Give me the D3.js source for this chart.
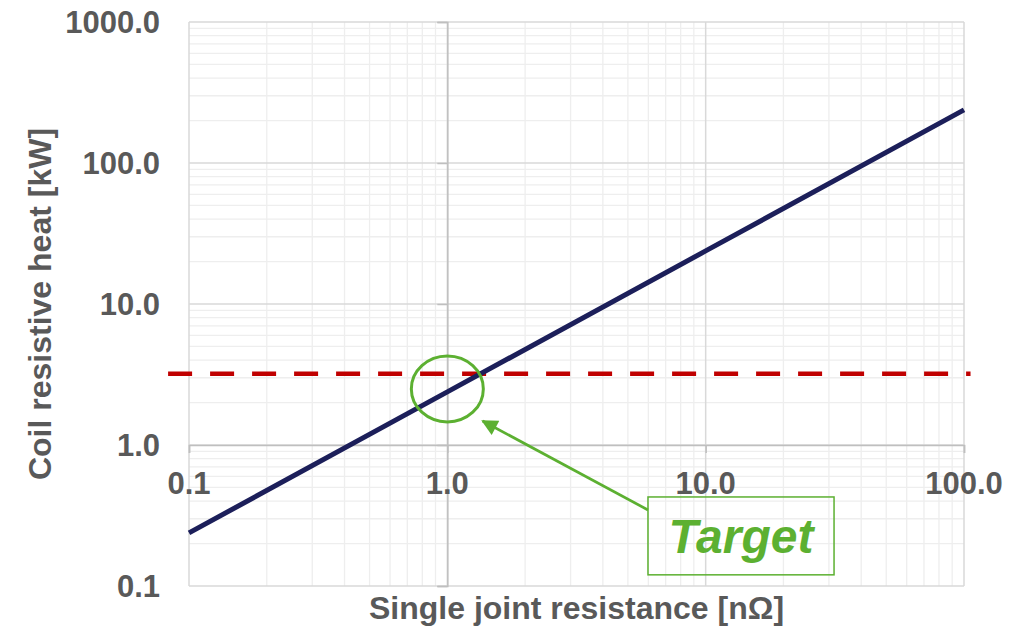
<!DOCTYPE html>
<html>
<head>
<meta charset="utf-8">
<script src="https://cdn.jsdelivr.net/npm/d3@7"></script>
<style>
  html, body { margin: 0; padding: 0; background: #ffffff; }
  svg { display: block; }
  text { font-family: "Liberation Sans", Arial, sans-serif; font-weight: bold; }
</style>
</head>
<body>
<svg id="chart" width="1015" height="628"></svg>
<script>
// ---- data ----
const resistance = [0.1, 1, 10, 100];          // single joint resistance [nΩ]
const heat = [0.238, 2.38, 23.8, 238];         // coil resistive heat [kW]
const targetHeat = 3.2;                        // target heat level [kW]
const targetSpan = [0.083, 106];               // extent of dashed target line
const xTicks = [0.1, 1, 10, 100];
const xTickLabels = ["0.1", "1.0", "10.0", "100.0"];
const yTicks = [0.1, 1, 10, 100, 1000];
const yTickLabels = ["0.1", "1.0", "10.0", "100.0", "1000.0"];
const xTitle = "Single joint resistance [nΩ]";
const yTitle = "Coil resistive heat [kW]";
const calloutText = "Target";
const circleCenter = [1.0, 2.5];
const arrowTip = [1.37, 1.48];
const boxX = [5.98, 31.4];
const boxY = [0.428, 0.12];

// ---- layout ----
const svg = d3.select("#chart");
const m = { left: 189, top: 22, right: 51, bottom: 42 };
const W = 1015 - m.left - m.right;
const H = 628 - m.top - m.bottom;

const x = d3.scaleLog().domain([0.1, 100]).range([m.left, m.left + W]);
const y = d3.scaleLog().domain([0.1, 1000]).range([m.top + H, m.top]);

// minor grid values
const minorX = [], minorY = [];
[0.1, 1, 10].forEach(d => { for (let k = 2; k <= 9; k++) minorX.push(d * k); });
[0.1, 1, 10, 100].forEach(d => { for (let k = 2; k <= 9; k++) minorY.push(d * k); });

const grid = svg.append("g");
grid.selectAll(".mx").data(minorX).enter().append("line")
  .attr("x1", d => x(d)).attr("x2", d => x(d))
  .attr("y1", m.top).attr("y2", m.top + H)
  .attr("stroke", "#eeeeee").attr("stroke-width", 1.3);
grid.selectAll(".my").data(minorY).enter().append("line")
  .attr("y1", d => y(d)).attr("y2", d => y(d))
  .attr("x1", m.left).attr("x2", m.left + W)
  .attr("stroke", "#eeeeee").attr("stroke-width", 1.3);
grid.selectAll(".Mx").data(xTicks).enter().append("line")
  .attr("x1", d => x(d)).attr("x2", d => x(d))
  .attr("y1", m.top).attr("y2", m.top + H)
  .attr("stroke", "#d9d9d9").attr("stroke-width", 1.5);
grid.selectAll(".My").data(yTicks).enter().append("line")
  .attr("y1", d => y(d)).attr("y2", d => y(d))
  .attr("x1", m.left).attr("x2", m.left + W)
  .attr("stroke", "#d9d9d9").attr("stroke-width", 1.5);

// axis lines crossing at 1.0 / 1.0
const xAxis = d3.axisBottom(x).tickValues(xTicks).tickSize(8).tickFormat("");
const gx = svg.append("g").attr("transform", `translate(0,${y(1)})`).call(xAxis);
gx.select(".domain").attr("stroke", "#bfbfbf").attr("stroke-width", 1.5);
gx.selectAll(".tick line").attr("stroke", "#bfbfbf").attr("stroke-width", 1.5);

const yAxis = d3.axisLeft(y).tickValues(yTicks).tickSize(10).tickFormat("");
const gy = svg.append("g").attr("transform", `translate(${x(1)},0)`).call(yAxis);
gy.select(".domain").attr("stroke", "#bfbfbf").attr("stroke-width", 1.5);
gy.selectAll(".tick line").attr("stroke", "#bfbfbf").attr("stroke-width", 1.5);

// tick labels
svg.append("g").selectAll("text").data(xTicks).enter().append("text")
  .attr("x", d => x(d)).attr("y", y(1) + 49)
  .attr("text-anchor", "middle").attr("font-size", 31).attr("fill", "#595959")
  .text((d, i) => xTickLabels[i]);
svg.append("g").selectAll("text").data(yTicks).enter().append("text")
  .attr("x", 160).attr("y", d => y(d))
  .attr("dy", "0.36em")
  .attr("text-anchor", "end").attr("font-size", 31).attr("fill", "#595959")
  .text((d, i) => yTickLabels[i]);

// axis titles
svg.append("text")
  .attr("x", m.left + W / 2).attr("y", 619)
  .attr("text-anchor", "middle").attr("font-size", 32).attr("fill", "#595959")
  .text(xTitle);
svg.append("text")
  .attr("transform", `translate(51,${m.top + H / 2}) rotate(-90)`)
  .attr("text-anchor", "middle").attr("font-size", 32).attr("fill", "#595959")
  .text(yTitle);

// target dashed line
svg.append("line")
  .attr("x1", x(targetSpan[0])).attr("x2", x(targetSpan[1]))
  .attr("y1", y(targetHeat)).attr("y2", y(targetHeat))
  .attr("stroke", "#c00000").attr("stroke-width", 4.5)
  .attr("stroke-dasharray", "24 18");

// heat line
const line = d3.line().x(d => x(d[0])).y(d => y(d[1]));
svg.append("path")
  .datum(resistance.map((r, i) => [r, heat[i]]))
  .attr("d", line)
  .attr("fill", "none").attr("stroke", "#1c1f5a").attr("stroke-width", 5);

// annotation
const green = "#5cb031";
svg.append("ellipse")
  .attr("cx", x(circleCenter[0])).attr("cy", y(circleCenter[1]))
  .attr("rx", 36).attr("ry", 33)
  .attr("fill", "none").attr("stroke", green).attr("stroke-width", 3);

svg.append("defs").append("marker")
  .attr("id", "arr").attr("viewBox", "0 0 10 10")
  .attr("refX", 9).attr("refY", 5)
  .attr("markerWidth", 7).attr("markerHeight", 6)
  .attr("markerUnits", "strokeWidth")
  .attr("orient", "auto")
  .append("path").attr("d", "M0,0 L10,5 L0,10 Z").attr("fill", green);

const bx0 = x(boxX[0]), bx1 = x(boxX[1]), by0 = y(boxY[0]), by1 = y(boxY[1]);
svg.append("line")
  .attr("x1", bx0).attr("y1", by0 + 13)
  .attr("x2", x(arrowTip[0])).attr("y2", y(arrowTip[1]))
  .attr("stroke", green).attr("stroke-width", 2.7)
  .attr("marker-end", "url(#arr)");

svg.append("rect")
  .attr("x", bx0).attr("y", by0)
  .attr("width", bx1 - bx0).attr("height", by1 - by0)
  .attr("fill", "#ffffff").attr("fill-opacity", 0)
  .attr("stroke", green).attr("stroke-width", 1.5);

svg.append("text")
  .attr("x", (bx0 + bx1) / 2).attr("y", by0 + 56)
  .attr("text-anchor", "middle").attr("font-size", 48)
  .attr("font-style", "italic").attr("fill", green)
  .text(calloutText);
</script>
</body>
</html>
